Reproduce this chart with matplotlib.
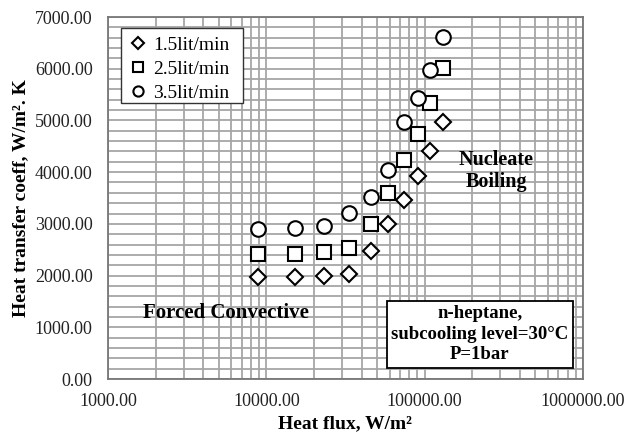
import matplotlib
matplotlib.use("Agg")
import matplotlib.pyplot as plt
from matplotlib.patches import Rectangle
from matplotlib.ticker import FixedLocator, MultipleLocator, FuncFormatter, LogLocator, NullFormatter

plt.rcParams['font.family'] = ['Liberation Serif', 'DejaVu Serif']

# Heat flux (W/m^2) and heat transfer coefficient (W/m^2.K) per flow rate
heat_flux = [8870, 15200, 23100, 33300, 45900, 58700, 74100, 90900, 108200, 130700]
htc_15 = [1970, 1975, 2000, 2040, 2480, 3000, 3460, 3925, 4410, 4970]
htc_25 = [2420, 2425, 2455, 2530, 3000, 3600, 4235, 4740, 5340, 6015]
htc_35 = [2900, 2920, 2960, 3210, 3520, 4040, 4970, 5435, 5975, 6615]
series_labels = ["1.5lit/min", "2.5lit/min", "3.5lit/min"]
y_ticks = [0, 1000, 2000, 3000, 4000, 5000, 6000, 7000]
x_ticks = [1e3, 1e4, 1e5, 1e6]

fig = plt.figure(figsize=(6.25, 4.36), dpi=100)
ax = fig.add_axes([0.1728, 0.1307, 0.76, 0.8303])

ax.set_xscale('log')
ax.set_xlim(1e3, 1e6)
ax.set_ylim(0, 7000)

grid_col = '#a6a6a6'
ax.xaxis.set_major_locator(FixedLocator(x_ticks))
ax.xaxis.set_minor_locator(LogLocator(base=10, subs=range(2, 10)))
ax.xaxis.set_minor_formatter(NullFormatter())
ax.yaxis.set_major_locator(FixedLocator(y_ticks))
ax.yaxis.set_minor_locator(MultipleLocator(200))
fmt = FuncFormatter(lambda v, p: f"{v:.2f}")
ax.xaxis.set_major_formatter(fmt)
ax.yaxis.set_major_formatter(fmt)
ax.grid(True, which='both', color=grid_col, linewidth=1.3)
ax.set_axisbelow(True)
ax.tick_params(which='both', length=0, labelsize=13, colors='#222222')
ax.tick_params(axis='x', pad=10)
ax.tick_params(axis='y', pad=11)
for s in ax.spines.values():
    s.set_color('#777777')
    s.set_linewidth(1.3)

mk = dict(linestyle='none', markerfacecolor='white', markeredgecolor='black',
          markeredgewidth=1.5, zorder=3)
ax.plot(heat_flux, htc_15, marker='D', markersize=8.5, label=series_labels[0], **mk)
ax.plot(heat_flux, htc_25, marker='s', markersize=9.5, label=series_labels[1], **mk)
ax.plot(heat_flux, htc_35, marker='o', markersize=10.5, label=series_labels[2], **mk)

# legend frame drawn as a separate box so its padding can be set freely
ax.add_patch(Rectangle((0.0274, 0.762), 0.257, 0.208, transform=ax.transAxes,
                       facecolor='white', edgecolor='#333333', linewidth=1.0,
                       zorder=4))
leg = ax.legend(loc='upper left', bbox_to_anchor=(0.0274, 0.965), fontsize=14,
                frameon=False, handlelength=1.0, handletextpad=0.3,
                borderpad=0.35, labelspacing=0.32, markerscale=0.7,
                borderaxespad=0)
leg.set_zorder(5)

ax.set_xlabel("Heat flux, W/m²", fontsize=14, fontweight='bold', labelpad=4)
ax.set_ylabel("Heat transfer coeff, W/m². K", fontsize=14, fontweight='bold', labelpad=4)

ax.text(0.249, 0.182, "Forced Convective", transform=ax.transAxes, fontsize=15,
        fontweight='bold', ha='center', va='center')
ax.text(0.817, 0.575, "Nucleate\nBoiling", transform=ax.transAxes, fontsize=14.5,
        fontweight='bold', ha='center', va='center', linespacing=1.15)
ax.text(0.783, 0.124, "n-heptane,\nsubcooling level=30°C\nP=1bar",
        transform=ax.transAxes, fontsize=13.5, fontweight='bold',
        ha='center', va='center', linespacing=1.25,
        bbox=dict(boxstyle='square,pad=0.25', facecolor='white',
                  edgecolor='black', linewidth=1.3))

fig.savefig("out.png", dpi=100)
